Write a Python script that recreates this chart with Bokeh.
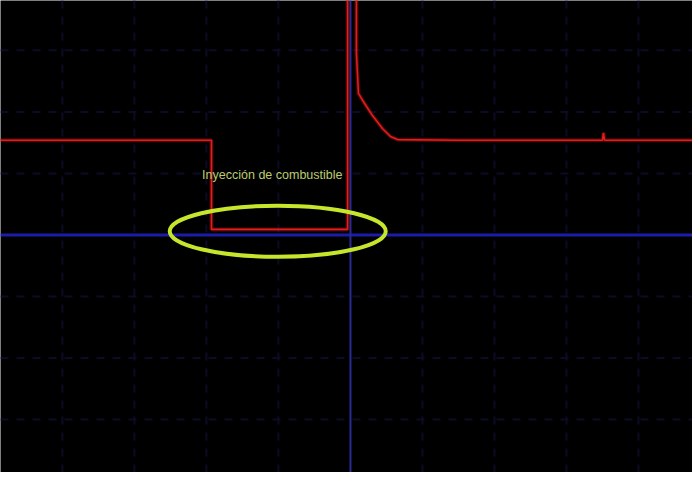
from bokeh.plotting import figure
from bokeh.models import Range1d, Span, Label
from bokeh.embed import file_html
from bokeh.resources import INLINE

# Oscilloscope trace: time in ms (1 ms/div), voltage in V (10 V/div)
time_ms = [-4.86, -1.93, -1.93, -0.04, -0.04, 0.083, 0.083, 0.111, 0.194, 0.306,
           0.444, 0.556, 0.653, 1.5, 2.5, 3.50, 3.514, 3.528, 4.75]
volts = [15.4, 15.4, 0.9, 0.9, 45.0, 45.0, 29.5, 23.0, 21.4, 19.4,
         17.3, 16.0, 15.5, 15.4, 15.4, 15.4, 16.6, 15.4, 15.4]

grid_x = [-4, -3, -2, -1, 1, 2, 3, 4]
grid_y = [-30, -20, -10, 10, 20, 30]

label_text = "Inyección de combustible"
label_pos = (-2.06, 9.7)
ellipse_center = (-1.01, 0.6)
ellipse_size = (3.0, 8.3)

p = figure(width=692, height=472, output_backend="svg", toolbar_location=None,
           x_range=Range1d(-4.86, 4.75), y_range=Range1d(-38.6, 38.1),
           min_border=0, background_fill_color="black", border_fill_color="black",
           outline_line_color=None)
p.axis.visible = False
p.grid.visible = False

for gx in grid_x:
    p.add_layout(Span(location=gx, dimension="height", line_color="#0b0b26",
                      line_width=2, line_dash="8 8", level="underlay"))
for gy in grid_y:
    p.add_layout(Span(location=gy, dimension="width", line_color="#0b0b26",
                      line_width=2, line_dash="8 8", level="underlay"))

p.add_layout(Span(location=0, dimension="width", line_color="#1c1caa",
                  line_width=3, level="underlay"))
p.add_layout(Span(location=0, dimension="height", line_color="#2a2a95",
                  line_width=2, level="underlay"))

p.line(time_ms, volts, line_color="#c81414", line_width=4, line_alpha=0.35)
p.line(time_ms, volts, line_color="#e41c1c", line_width=1.6)

p.ellipse(x=[ellipse_center[0]], y=[ellipse_center[1]], width=[ellipse_size[0]],
          height=[ellipse_size[1]], fill_color=None, line_color="#c6e62c", line_width=4)

p.add_layout(Label(x=label_pos[0], y=label_pos[1], text=label_text,
                   text_color="#bccc6a", text_font="Liberation Sans",
                   text_font_size="12.5px", text_baseline="middle"))

open("out.html", "w").write(file_html(p, INLINE))
